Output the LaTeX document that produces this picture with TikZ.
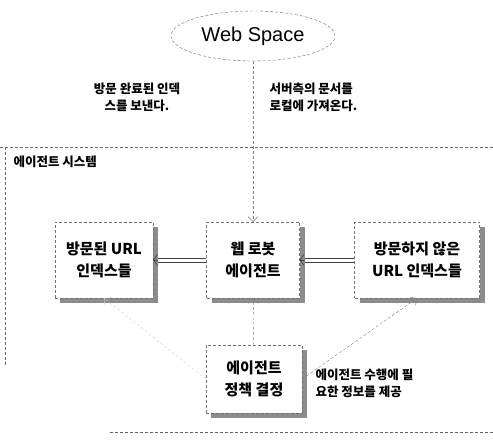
\documentclass[tikz,border=0pt]{standalone}
\usepackage{fontspec}
\setmainfont{Liberation Sans}
\newfontfamily\kr{Noto Sans CJK KR}
\usetikzlibrary{shapes.geometric,shadows,arrows.meta}

\begin{document}
\begin{tikzpicture}[x=1pt,y=-1pt,
  box/.style={draw=black!55,densely dashed,thin,fill=white,align=center,
    minimum height=76pt,inner sep=2pt,
    font=\kr\bfseries\fontsize{15}{22}\selectfont,
    drop shadow={shadow xshift=5pt,shadow yshift=-5pt,fill=black!45,opacity=1}},
  note/.style={align=left,font=\kr\bfseries\fontsize{12.5}{17}\selectfont},
  flow/.style={draw=black!50,densely dashed,-{Straight Barb[length=5pt,width=10pt]}},
  pipe/.style={draw=black!75,line width=0.6pt},
  pipetip/.style={pipe,-{Straight Barb[length=4pt,width=11pt]}},
  frame/.style={draw=black!60,densely dashed}]

\useasboundingbox (0,0) rectangle (493,441);

% agent system frame
\draw[frame] (0,147) -- (493,147);
\draw[frame] (5,147) -- (5,365);
\draw[frame] (110,432) -- (493,432);

\node[ellipse,draw=black!60,densely dashed,minimum width=164pt,minimum height=50pt,
  font=\fontsize{20}{24}\selectfont] (web) at (253,36) {Web Space};

\node[box,minimum width=98pt] (visited) at (104,260) {방문된 URL\\인덱스들};
\node[box,minimum width=93pt] (robot) at (253,260) {웹 로봇\\에이전트};
\node[box,minimum width=125pt] (unvisited) at (417,260) {방문하지 않은\\URL 인덱스들};
\node[box,minimum width=96pt,minimum height=68pt] (policy) at (254,379) {에이전트\\정책 결정};

% labels
\node[note,align=center] (sent) at (137,97) {방문 완료된 인덱\\스를 보낸다.};
\node[note,anchor=west] (fetch) at (266,97) {서버측의 문서를\\로컬에 가져온다.};
\node[note,anchor=west] (system) at (10,162) {에이전트 시스템};
\node[note,anchor=west] (info) at (312,383) {에이전트 수행에 필\\요한 정보를 제공};

% connectors
\draw[flow] (web.south) -- (robot.north);

% double lines: robot -> visited, unvisited -> robot
\draw[pipe] ([yshift=2pt]robot.west) -- ([xshift=5pt,yshift=2pt]visited.east);
\draw[pipe] ([yshift=-2pt]robot.west) -- ([xshift=5pt,yshift=-2pt]visited.east);
\draw[pipetip] ([xshift=5pt]visited.east) -- (visited.east);
\draw[pipe] ([yshift=2pt]unvisited.west) -- ([xshift=5pt,yshift=2pt]robot.east);
\draw[pipe] ([yshift=-2pt]unvisited.west) -- ([xshift=5pt,yshift=-2pt]robot.east);
\draw[pipetip] ([xshift=5pt]robot.east) -- (robot.east);

\draw[flow] (policy) -- (robot);
\draw[flow] (policy.east) -- (unvisited.south);
\draw[flow,draw=black!20] (policy.west) -- (visited.south); % faint

\end{tikzpicture}
\end{document}
